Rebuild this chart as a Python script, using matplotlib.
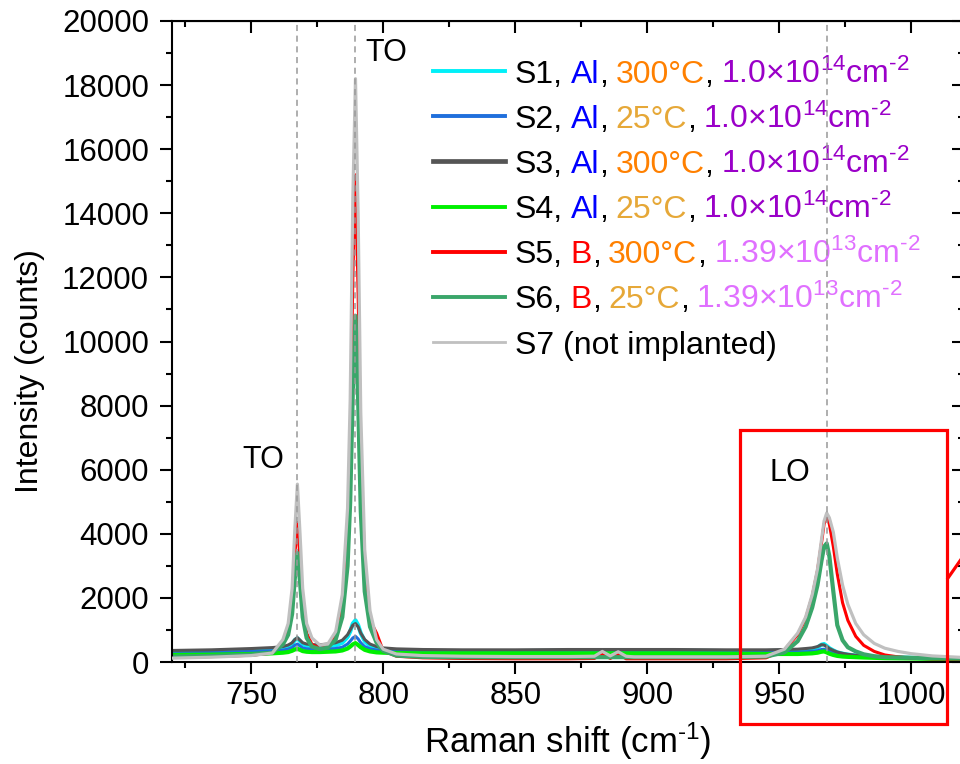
import matplotlib
matplotlib.use("Agg")
import matplotlib.pyplot as plt
from matplotlib.ticker import MultipleLocator
from matplotlib.patches import Rectangle
from matplotlib.lines import Line2D

plt.rcParams['font.family'] = ['Liberation Sans', 'DejaVu Sans']
plt.rcParams['mathtext.fontset'] = 'custom'
plt.rcParams['mathtext.rm'] = 'Liberation Sans'
plt.rcParams['mathtext.it'] = 'Liberation Sans:italic'
plt.rcParams['mathtext.bf'] = 'Liberation Sans:bold'

# Raman shift (cm-1)
shift = [720, 735, 750, 758, 762, 764, 765.5, 766.5, 767.5, 768.5,
         769.5, 771, 773, 776, 779, 782, 784.5, 786.5, 787.5, 788.5,
         789.5, 790.5, 791.5, 793, 795, 797.5, 800, 805, 815, 830,
         850, 870, 880, 883, 886, 889, 892, 895, 910, 930,
         945, 952, 957, 960, 962.5, 964.5, 966, 967, 968, 969,
         970.5, 972, 974, 976, 979, 982, 986, 990, 995, 1000,
         1008, 1020]

s1 = [310, 330, 370, 400, 430, 480, 560, 680, 740, 650,
      560, 500, 480, 470, 480, 520, 600, 780, 950, 1200,
      1300, 1150, 900, 650, 500, 420, 380, 360, 340, 340,
      340, 350, 350, 350, 350, 350, 350, 350, 350, 340,
      340, 350, 360, 380, 400, 450, 540, 560, 500, 430,
      360, 300, 260, 230, 200, 180, 160, 150, 140, 130,
      120, 110]
s2 = [280, 300, 330, 350, 370, 400, 450, 520, 560, 500,
      440, 410, 400, 400, 400, 420, 460, 560, 650, 750,
      800, 720, 600, 480, 410, 370, 350, 330, 320, 320,
      320, 320, 320, 320, 320, 320, 320, 320, 320, 310,
      300, 300, 310, 320, 330, 350, 390, 400, 370, 330,
      290, 250, 220, 200, 180, 160, 150, 140, 130, 120,
      110, 100]
s3 = [360, 380, 420, 450, 480, 530, 600, 700, 760, 680,
      600, 560, 540, 540, 560, 600, 680, 850, 1000, 1150,
      1200, 1100, 900, 700, 560, 480, 440, 410, 390, 380,
      380, 390, 390, 390, 390, 390, 390, 390, 390, 380,
      380, 390, 400, 420, 440, 480, 540, 530, 480, 420,
      360, 310, 270, 240, 210, 190, 170, 160, 150, 140,
      130, 120]
s4 = [220, 230, 250, 270, 290, 310, 350, 390, 410, 380,
      340, 320, 310, 310, 320, 330, 360, 420, 480, 550,
      590, 530, 460, 380, 330, 300, 290, 280, 270, 270,
      270, 270, 270, 270, 270, 270, 270, 270, 270, 260,
      250, 250, 250, 260, 270, 290, 320, 330, 300, 260,
      220, 190, 170, 160, 150, 140, 130, 120, 115, 110,
      100, 95]
s5 = [150, 170, 210, 280, 600, 1000, 1900, 3300, 4350, 3200,
      1800, 900, 550, 420, 480, 850, 1800, 4000, 6800, 12000,
      15200, 11500, 6500, 3000, 1300, 900, 350, 180, 130, 110,
      100, 100, 110, 260, 110, 250, 100, 100, 100, 100,
      130, 380, 850, 1350, 2050, 2850, 3700, 4300, 4550, 4300,
      3600, 2750, 1850, 1300, 800, 520, 330, 220, 160, 120,
      100, 90]
s6 = [170, 190, 230, 290, 550, 850, 1500, 2600, 3400, 2500,
      1400, 750, 480, 400, 450, 700, 1400, 3000, 5000, 8500,
      10800, 8200, 4700, 2200, 1100, 600, 350, 200, 160, 150,
      150, 150, 150, 150, 150, 150, 150, 150, 150, 150,
      170, 300, 650, 1100, 1700, 2400, 3150, 3600, 3700, 3300,
      2200, 1150, 680, 460, 330, 240, 180, 150, 140, 130,
      120, 110]
s7 = [120, 150, 200, 280, 700, 1200, 2300, 4100, 5550, 4000,
      2300, 1200, 750, 530, 560, 950, 2100, 4800, 8200, 14500,
      18200, 14000, 7800, 3500, 1600, 700, 400, 250, 200, 180,
      170, 170, 180, 330, 190, 320, 180, 160, 160, 160,
      180, 400, 900, 1400, 2100, 2900, 3800, 4400, 4650, 4500,
      4050, 3250, 2400, 1800, 1200, 850, 580, 430, 330, 260,
      190, 140]

peak_pos = [767.5, 789.5, 968]
peak_names = ['TO', 'TO', 'LO']
peak_label_xy = [(754.5, 6300), (801, 19000), (954, 5900)]

names = ['S1', 'S2', 'S3', 'S4', 'S5', 'S6', 'S7']
line_colors = ['#00f0f8', '#1f6fdc', '#555555', '#00f000', '#ff0000', '#3aa66a', '#c0c0c0']
series = [s1, s2, s3, s4, s5, s6, s7]

c_al, c_b = '#0000ff', '#ff0000'
c_hot, c_rt = '#ff8000', '#e6a838'
c_dose_al, c_dose_b = '#9a00c8', '#e070ff'
dose_al = '1.0×10$^{14}$cm$^{\u20102}$'
dose_b = '1.39×10$^{13}$cm$^{\u20102}$'
legend_rows = [
    [('S1,', 'k'), ('Al', c_al), (',', 'k'), ('300°C', c_hot), (',', 'k'), (dose_al, c_dose_al)],
    [('S2,', 'k'), ('Al', c_al), (',', 'k'), ('25°C', c_rt), (',', 'k'), (dose_al, c_dose_al)],
    [('S3,', 'k'), ('Al', c_al), (',', 'k'), ('300°C', c_hot), (',', 'k'), (dose_al, c_dose_al)],
    [('S4,', 'k'), ('Al', c_al), (',', 'k'), ('25°C', c_rt), (',', 'k'), (dose_al, c_dose_al)],
    [('S5,', 'k'), ('B', c_b), (',', 'k'), ('300°C', c_hot), (',', 'k'), (dose_b, c_dose_b)],
    [('S6,', 'k'), ('B', c_b), (',', 'k'), ('25°C', c_rt), (',', 'k'), (dose_b, c_dose_b)],
    [('S7 (not implanted)', 'k')],
]

fig = plt.figure(figsize=(9.6, 7.64), dpi=100)
ax = fig.add_axes([172 / 960, 102 / 764, 792 / 960, 641 / 764])

# drawing order: thin baselines first, strong peaks on top
widths = {'S1': 3.0, 'S2': 2.2, 'S3': 2.2, 'S4': 3.0, 'S5': 2.2, 'S6': 3.0, 'S7': 2.3}
for i in [1, 2, 3, 0, 5, 4, 6]:
    ax.plot(shift, series[i], color=line_colors[i], lw=widths[names[i]], zorder=2 + i * 0.1)

for xp in peak_pos:
    ax.axvline(xp, color='#999999', lw=1.1, ls=(0, (4, 3)), zorder=5)
for (tx, ty), nm in zip(peak_label_xy, peak_names):
    ax.text(tx, ty, nm, fontsize=22, ha='center', va='center')

ax.set_xlim(720, 1020)
ax.set_ylim(0, 20000)
ax.xaxis.set_major_locator(MultipleLocator(50))
ax.xaxis.set_minor_locator(MultipleLocator(25))
ax.yaxis.set_major_locator(MultipleLocator(2000))
ax.yaxis.set_minor_locator(MultipleLocator(1000))
for sp in ax.spines.values():
    sp.set_linewidth(1.5)
ax.tick_params(which='both', direction='out', width=1.5, labelsize=22.5)
ax.tick_params(which='major', length=8.5)
ax.tick_params(which='minor', length=4.5)
ax.tick_params(axis='x', pad=5)
ax.tick_params(axis='y', pad=8)

top = ax.secondary_xaxis('top')
top.xaxis.set_major_locator(MultipleLocator(50))
top.xaxis.set_minor_locator(MultipleLocator(25))
top.tick_params(which='both', direction='in', width=1.5, labeltop=False)
top.tick_params(which='major', length=8.5)
top.tick_params(which='minor', length=4.5)
right = ax.secondary_yaxis('right')
right.yaxis.set_major_locator(MultipleLocator(2000))
right.yaxis.set_minor_locator(MultipleLocator(1000))
right.tick_params(which='both', direction='in', width=1.5, labelright=False)
right.tick_params(which='major', length=8.5)
right.tick_params(which='minor', length=4.5)

fig.text(568 / 960, 11 / 764, 'Raman shift (cm$^{\u20101}$)', fontsize=25, ha='center', va='baseline')
fig.text(30 / 960, (764 - 371) / 764, 'Intensity (counts)', fontsize=23, rotation=90,
         ha='center', va='center')

# legend with multicolour text, built piece by piece
fig.canvas.draw()
renderer = fig.canvas.get_renderer()
ax_w = ax.get_window_extent().width
lx0, lx1, tx0 = (433 - 172) / 792, (505 - 172) / 792, (515 - 172) / 792
row0, drow = (662 - 71) / 641, 45.2 / 641
base_off = 11.5 / 641
gap = 7.5 / ax_w
legend_lw = [2.8, 2.8, 3.4, 2.8, 2.8, 2.8, 2.0]
for i, pieces in enumerate(legend_rows):
    yl = row0 - i * drow
    ax.add_line(Line2D([lx0, lx1], [yl, yl], transform=ax.transAxes, color=line_colors[i],
                       lw=legend_lw[i], clip_on=False))
    x = tx0
    for txt, col in pieces:
        t = ax.text(x, yl - base_off, txt, color=col, fontsize=23, va='baseline', ha='left',
                    transform=ax.transAxes)
        x += t.get_window_extent(renderer).width / ax_w
        if txt.endswith(','):
            x += gap

# red zoom box and connector
fig.add_artist(Rectangle((740 / 960, 40 / 764), 207 / 960, 294 / 764, transform=fig.transFigure,
                         fill=False, ec='#ff0000', lw=2.3, zorder=10))
fig.add_artist(Line2D([948 / 960, 990 / 960], [(764 - 578) / 764, (764 - 518) / 764],
                      transform=fig.transFigure, color='#ff0000', lw=2.3, zorder=10))

fig.savefig('out.png', dpi=100)
